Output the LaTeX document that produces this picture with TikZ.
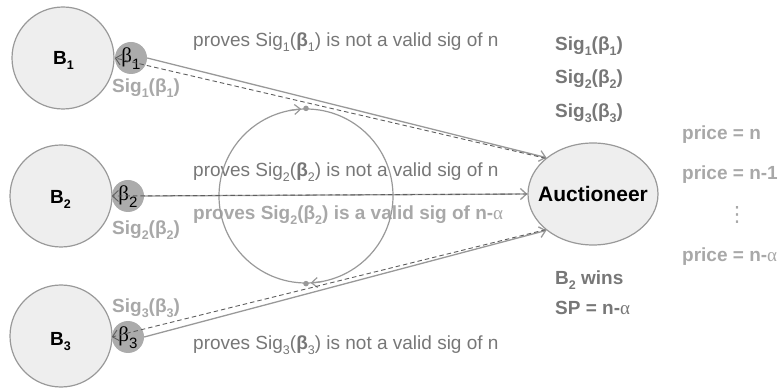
\documentclass[tikz,border=0pt]{standalone}
\usepackage{fontspec}
\setmainfont{Liberation Sans}
\newfontfamily\serifgr{Liberation Serif}
\newfontfamily\symfam{DejaVu Sans}
\usetikzlibrary{arrows.meta,shapes.geometric}

\definecolor{edgegray}{HTML}{999999}
\definecolor{fillgray}{HTML}{EEEEEE}
\definecolor{chipgray}{HTML}{ABABAB}
\definecolor{midtext}{HTML}{777777}
\definecolor{lighttext}{HTML}{A8A8A8}
\definecolor{dashgray}{HTML}{5E5E5E}

% lowered index in the running text size
\newcommand\lo[1]{\raisebox{-0.22em}{\fontsize{12.5}{12.5}\selectfont #1}}
% lowered index inside the small chips
\newcommand\chiplo[1]{\raisebox{-0.32em}{\rmfamily\fontsize{15}{15}\selectfont #1}}
\newcommand\galpha{{\serifgr\mdseries α}}

\tikzset{
  bidder/.style={circle, draw=edgegray, fill=fillgray, line width=1.2pt,
    minimum size=102pt, inner sep=0pt},
  chip/.style={circle, fill=chipgray, minimum size=32pt, inner sep=0pt},
  auction/.style={ellipse, draw=edgegray, fill=fillgray, line width=1.2pt,
    minimum width=130pt, minimum height=102pt, inner sep=0pt},
  txt/.style={anchor=base west, inner sep=0pt, font=\fontsize{19}{22}\selectfont},
  btxt/.style={txt, font=\fontsize{19}{22}\selectfont\bfseries},
  chiptxt/.style={anchor=base, inner sep=0pt, font=\fontsize{21}{22}\selectfont\serifgr},
  solidln/.style={draw=edgegray, line width=1.3pt,
    -{Straight Barb[length=6pt,width=11pt]}},
  dashln/.style={draw=dashgray, line width=0.9pt, dash pattern=on 4.5pt off 3pt,
    -{Straight Barb[length=6pt,width=11pt]}},
}

\begin{document}
\begin{tikzpicture}[x=1pt,y=1pt]
\useasboundingbox (0,0) rectangle (781,388);

% bidders, their committed values and the auctioneer
\node[bidder] (B1) at (63,330) {};
\node[bidder] (B2) at (61,192) {};
\node[bidder] (B3) at (61,52) {};
\node[chip] (c1) at (131,330) {};
\node[chip] (c2) at (128,192) {};
\node[chip] (c3) at (128,51) {};
\node[auction] (A) at (593,194) {};

% names
\node[btxt] (nB1) at (53,323) {B\lo{1}};
\node[btxt] (nB2) at (50,184) {B\lo{2}};
\node[btxt] (nB3) at (50,42) {B\lo{3}};
\node[anchor=base, inner sep=0pt, font=\fontsize{21}{24}\selectfont\bfseries] (nA) at (593,186) {Auctioneer};

\node[chiptxt] (t1) at ([yshift=-5pt]c1.center) {β\chiplo{1}};
\node[chiptxt] (t2) at ([yshift=-5pt]c2.center) {β\chiplo{2}};
\node[chiptxt] (t3) at ([yshift=-5pt]c3.center) {β\chiplo{3}};

% signatures sent by the bidders
\node[btxt, text=lighttext] (s1) at (112,295) {Sig\lo{1}(β\lo{1})};
\node[btxt, text=lighttext] (s2) at (112,153) {Sig\lo{2}(β\lo{2})};
\node[btxt, text=lighttext] (s3) at (112,75) {Sig\lo{3}(β\lo{3})};

% proofs returned by the auctioneer
\node[txt, text=midtext] (p1) at (193,341) {proves Sig\lo{1}(\textbf{β}\lo{1}) is not a valid sig of n};
\node[txt, text=midtext] (p2) at (193,211) {proves Sig\lo{2}(\textbf{β}\lo{2}) is not a valid sig of n};
\node[btxt, text=lighttext] (p2v) at (193,168) {proves Sig\lo{2}(β\lo{2}) is a valid sig of n-\galpha};
\node[txt, text=midtext] (p3) at (193,38) {proves Sig\lo{3}(\textbf{β}\lo{3}) is not a valid sig of n};

% auctioneer's records
\node[btxt, text=midtext] (r1) at (555,337) {Sig\lo{1}(β\lo{1})};
\node[btxt, text=midtext] (r2) at (555,304) {Sig\lo{2}(β\lo{2})};
\node[btxt, text=midtext] (r3) at (555,270) {Sig\lo{3}(β\lo{3})};
\node[btxt, text=midtext] (win) at (555,103) {B\lo{2} wins};
\node[btxt, text=midtext] (sp) at (555,73) {SP = n-\galpha};

% descending price
\node[btxt, text=lighttext] (pr1) at (682,248) {price = n};
\node[btxt, text=lighttext] (pr2) at (682,208) {price = n-1};
\node[text=lighttext, inner sep=0pt, font=\fontsize{21}{22}\selectfont\symfam] (vd) at (737,173) {⋮};
\node[btxt, text=lighttext] (pr3) at (682,126) {price = n-\galpha};

% round loop
\node[circle, draw=edgegray, line width=1.2pt, minimum size=174pt, inner sep=0pt] (loop) at (306,192) {};
\draw[edgegray, line width=1.2pt, -{Straight Barb[length=6pt,width=10pt]}]
  ([shift={(101:87)}]loop.center) arc[start angle=101, end angle=93, radius=87];
\draw[edgegray, line width=1.2pt, -{Straight Barb[length=6pt,width=10pt]}]
  ([shift={(281:87)}]loop.center) arc[start angle=281, end angle=273, radius=87];
\fill[edgegray] (loop.north) circle (2.8);
\fill[edgegray] (loop.south) circle (2.8);

% messages
\draw[solidln] (c1.east) -- (A.142);
\draw[dashln] (A.143) -- (c1.west);
\draw[solidln] (c2.east) -- (A.west);
\draw[dashln] (A.west) -- (c2.west);
\draw[solidln] (c3.east) -- (A.218);
\draw[dashln] (A.217) -- (c3.west);
\end{tikzpicture}
\end{document}
